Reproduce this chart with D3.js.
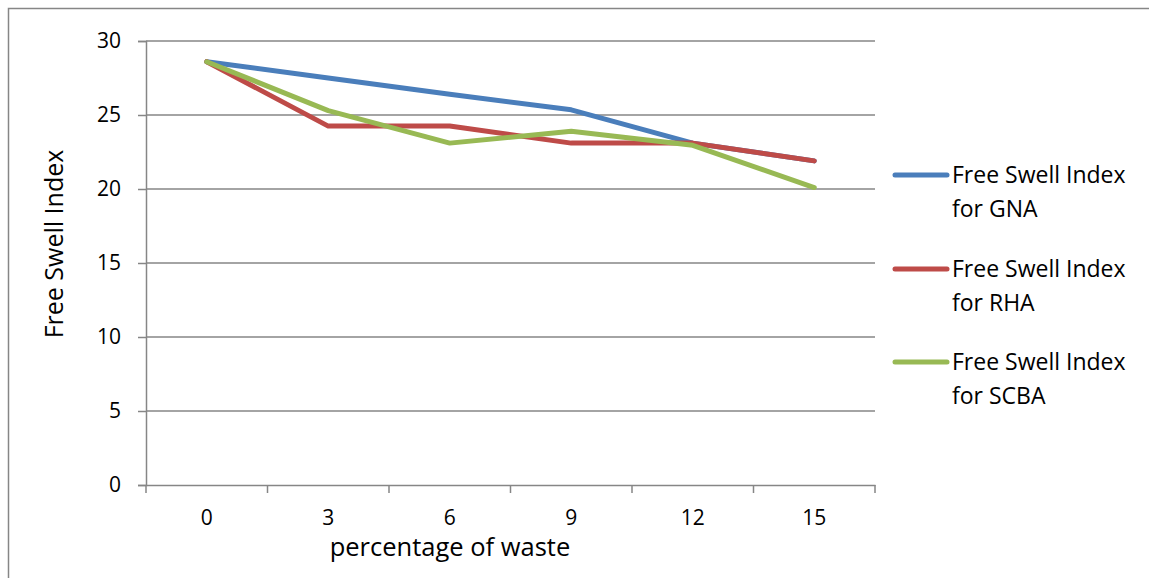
<!DOCTYPE html>
<html>
<head>
<meta charset="utf-8">
<script src="https://cdn.jsdelivr.net/npm/d3@7"></script>
<style>
  html, body { margin: 0; padding: 0; background: #fff; }
  svg { display: block; }
  text { font-family: "Open Sans", Lato, sans-serif; fill: #000; }
</style>
</head>
<body>
<svg id="chart" width="1149" height="578"></svg>
<script>
// Free swell index against percentage of added waste
const categories = ["0", "3", "6", "9", "12", "15"];
const gna  = [28.6, 27.5, 26.4, 25.35, 23.1, 21.9];
const rha  = [28.6, 24.25, 24.25, 23.1, 23.1, 21.9];
const scba = [28.6, 25.3, 23.1, 23.9, 22.95, 20.1];
const yTicks = [0, 5, 10, 15, 20, 25, 30];
const seriesNames = ["Free Swell Index for GNA", "Free Swell Index for RHA", "Free Swell Index for SCBA"];
const seriesColors = ["#4a7ebb", "#be4b48", "#98b954"];

const series = [
  { name: seriesNames[0], values: gna,  color: seriesColors[0] },
  { name: seriesNames[1], values: rha,  color: seriesColors[1] },
  { name: seriesNames[2], values: scba, color: seriesColors[2] }
];

const svg = d3.select("#chart");
const plot = { left: 146, right: 875, top: 41, bottom: 485 };
const gridColor = "#868686";
const fontFamily = "'Open Sans', Lato, sans-serif";

// outer chart frame
svg.append("rect")
  .attr("x", 8.5).attr("y", 8.5)
  .attr("width", 1200).attr("height", 700)
  .attr("fill", "none").attr("stroke", gridColor).attr("stroke-width", 1.5);

const x = d3.scaleBand().domain(categories).range([plot.left, plot.right]).padding(0);
const y = d3.scaleLinear().domain([0, 30]).range([plot.bottom, plot.top]);

// horizontal gridlines
svg.append("g")
  .selectAll("line")
  .data(yTicks.filter(t => t > 0))
  .join("line")
  .attr("x1", plot.left).attr("x2", plot.right)
  .attr("y1", d => y(d)).attr("y2", d => y(d))
  .attr("stroke", gridColor).attr("stroke-width", 1.5);

// y axis
const yAxis = svg.append("g")
  .attr("transform", `translate(${plot.left},0)`)
  .call(d3.axisLeft(y).tickValues(yTicks).tickSize(8).tickPadding(17));
yAxis.select(".domain").attr("stroke", gridColor).attr("stroke-width", 1.5);
yAxis.selectAll(".tick line").attr("stroke", gridColor).attr("stroke-width", 1.5);
yAxis.selectAll(".tick text").attr("font-size", 21).attr("font-family", fontFamily).attr("fill", "#000");

// x axis with ticks at category boundaries
const xAxis = svg.append("g")
  .attr("transform", `translate(0,${plot.bottom})`)
  .call(d3.axisBottom(x).tickSize(0).tickPadding(25));
xAxis.select(".domain").attr("stroke", gridColor).attr("stroke-width", 1.5);
xAxis.selectAll(".tick text").attr("font-size", 21).attr("font-family", fontFamily).attr("fill", "#000");
const boundaries = categories.map(c => x(c)).concat([x(categories[categories.length - 1]) + x.bandwidth()]);
xAxis.append("g")
  .selectAll("line")
  .data(boundaries)
  .join("line")
  .attr("x1", d => d).attr("x2", d => d)
  .attr("y1", 0).attr("y2", 8)
  .attr("stroke", gridColor).attr("stroke-width", 1.5);

// axis titles
svg.append("text")
  .attr("x", 450).attr("y", 556)
  .attr("text-anchor", "middle").attr("font-size", 25.5)
  .text("percentage of waste");
svg.append("text")
  .attr("transform", `translate(63,244) rotate(-90)`)
  .attr("text-anchor", "middle").attr("font-size", 25)
  .text("Free Swell Index");

// series lines
const line = d3.line()
  .x((d, i) => x(categories[i]) + x.bandwidth() / 2)
  .y(d => y(d));
svg.append("g")
  .selectAll("path")
  .data(series)
  .join("path")
  .attr("d", d => line(d.values))
  .attr("fill", "none")
  .attr("stroke", d => d.color)
  .attr("stroke-width", 5)
  .attr("stroke-linejoin", "round")
  .attr("stroke-linecap", "round");

// legend
const legend = svg.append("g");
const legendRows = [175, 269, 362];
series.forEach((s, i) => {
  const ly = legendRows[i];
  legend.append("line")
    .attr("x1", 895).attr("x2", 947)
    .attr("y1", ly).attr("y2", ly)
    .attr("stroke", s.color).attr("stroke-width", 5)
    .attr("stroke-linecap", "round");
  const words = s.name.split(" ");
  const t = legend.append("text").attr("font-size", 23).attr("x", 952).attr("y", ly + 8);
  t.append("tspan").attr("x", 952).attr("dy", 0).text(words.slice(0, 3).join(" "));
  t.append("tspan").attr("x", 952).attr("dy", 34).text(words.slice(3).join(" "));
});
</script>
</body>
</html>
